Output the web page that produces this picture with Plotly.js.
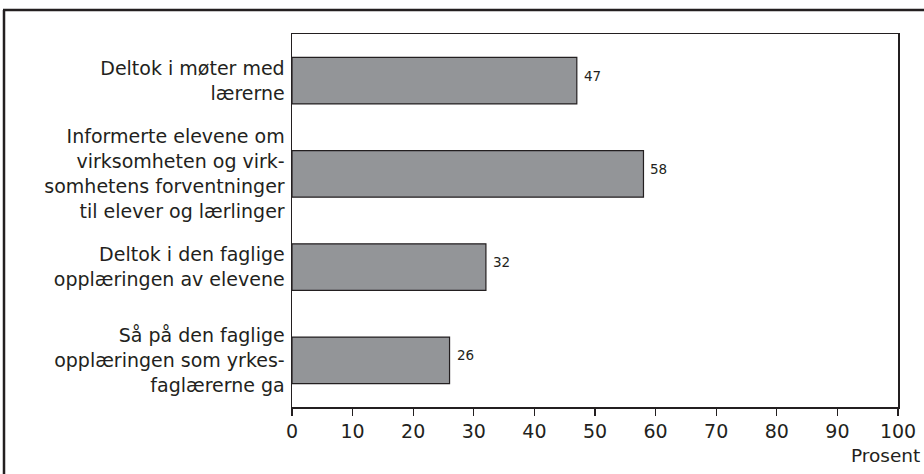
<!DOCTYPE html>
<html>
<head>
<meta charset="utf-8">
<script src="https://cdn.plot.ly/plotly-3.0.1.min.js"></script>
<style>html,body{margin:0;padding:0;background:#fff;}#chart{width:924px;height:474px;}</style>
</head>
<body>
<div id="chart"></div>
<script>
const categories = [
  "Deltok i møter med<br>lærerne",
  "Informerte elevene om<br>virksomheten og virk-<br>somhetens forventninger<br>til elever og lærlinger",
  "Deltok i den faglige<br>opplæringen av elevene",
  "Så på den faglige<br>opplæringen som yrkes-<br>faglærerne ga"
];
const values = [47, 58, 32, 26];
const xTicks = [0, 10, 20, 30, 40, 50, 60, 70, 80, 90, 100];
const xTitle = "Prosent";

const W = 924, H = 474, L = 292, R = 26, T = 34, B = 67;
const pw = W - L - R, ph = H - T - B;
const px = v => (v - L) / pw;
const py = v => 1 - (v - T) / ph;
const FONT = 'DejaVu Sans, sans-serif';
const INK = '#231f20';

const trace = {
  type: 'bar',
  orientation: 'h',
  y: categories,
  x: values,
  width: 0.5,
  marker: {color: '#939598', line: {color: INK, width: 1.2}},
  hoverinfo: 'none'
};

const valueNotes = values.map((v, i) => ({
  text: String(v), x: v, y: categories[i], xref: 'x', yref: 'y',
  xanchor: 'left', yanchor: 'middle', xshift: 5, yshift: 5, showarrow: false,
  font: {family: FONT, size: 13.5, color: INK}
}));

const layout = {
  width: W, height: H,
  margin: {l: L, r: R, t: T, b: B, pad: 0},
  paper_bgcolor: '#ffffff',
  plot_bgcolor: '#ffffff',
  showlegend: false,
  font: {family: FONT, color: INK},
  xaxis: {
    range: [0, 100],
    tickvals: xTicks,
    ticktext: xTicks.map(String),
    ticks: 'outside', ticklen: 7, tickwidth: 1.2, tickcolor: INK,
    showline: true, linecolor: INK, linewidth: 1.5, mirror: true,
    showgrid: false, zeroline: false,
    tickfont: {size: 19, color: INK, family: FONT}
  },
  yaxis: {
    autorange: 'reversed',
    range: [3.5, -0.5],
    showline: true, linecolor: INK, linewidth: 1.5, mirror: true,
    showgrid: false, zeroline: false,
    ticks: '', ticklabelstandoff: 2,
    tickfont: {size: 19, color: INK, family: FONT}
  },
  annotations: valueNotes.concat([
    {text: xTitle, xref: 'paper', yref: 'paper', x: px(922), y: py(455),
     xanchor: 'right', yanchor: 'middle', showarrow: false,
     font: {size: 18.5, color: INK, family: FONT}}
  ]),
  shapes: [
    {type: 'line', xref: 'paper', yref: 'paper', x0: px(4), x1: px(4), y0: py(10), y1: py(480),
     line: {color: INK, width: 2.5}},
    {type: 'line', xref: 'paper', yref: 'paper', x0: px(3), x1: px(930), y0: py(10), y1: py(10),
     line: {color: INK, width: 2.5}}
  ]
};

Plotly.newPlot('chart', [trace], layout, {displayModeBar: false, staticPlot: true});
</script>
</body>
</html>
